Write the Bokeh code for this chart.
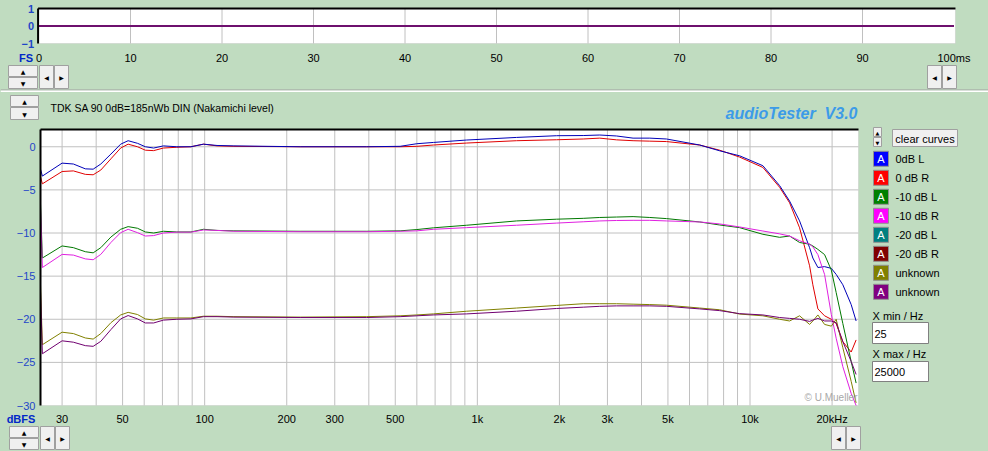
import numpy as np
from bokeh.plotting import figure
from bokeh.models import Range1d, FixedTicker, Label, BoxAnnotation
from bokeh.layouts import column
from bokeh.embed import file_html
from bokeh.resources import INLINE

BG = "#C0DCC0"
FONT = "Liberation Sans"
TICK_BLUE = "#1F45C8"
LABEL_BLUE = "#0028C8"
GRID = "#C0C0C0"

# ---------------- data ----------------
time_ms = [0, 100]
time_level = [0, 0]
time_min, time_max = 0, 100
level_min, level_max = -1, 1
time_ticks = [0, 10, 20, 30, 40, 50, 60, 70, 80, 90, 100]
time_tick_labels = ["0", "10", "20", "30", "40", "50", "60", "70", "80", "90", "100ms"]
time_grid = [10, 20, 30, 40, 50, 60, 70, 80, 90]
time_y_ticks = [-1, 0, 1]

freq_min, freq_max = 25, 25000
db_min, db_max = -30, 2

freq_hz = [25, 25.4, 30, 33, 36.5, 39, 41.6, 45.3, 49.2, 52.4, 56.7, 60.6, 65, 70.6, 79, 89, 99, 111, 128,
           224, 393, 521, 600, 690, 914, 1393, 1953, 2445, 2812, 3240, 3725, 4290, 4940,
           6540, 7740, 9160, 11150, 12840, 13970, 15200, 16540, 17000, 17740, 18770, 19870, 20700, 21900, 23500, 24500]

db_0dB_L = [-2.6, -3.4, -1.9, -2.0, -2.56, -2.6, -2.0, -0.85, 0.3, 0.7, 0.4, 0.0, -0.15, 0.1, 0.0, 0.0, 0.3, 0.15, 0.1,
            0.0, 0.0, 0.05, 0.35, 0.5, 0.78, 1.08, 1.28, 1.3, 1.36, 1.25, 1.0, 1.0, 0.9,
            0.2, -0.47, -1.05, -2.2, -4.5, -6.3, -8.6, -11.7, -12.9, -14.0, -13.9, -14.1, -14.8, -16.0, -18.3, -20.2]
db_0dB_R = [-3.5, -4.3, -2.87, -2.8, -3.2, -3.25, -2.7, -1.4, -0.15, 0.3, 0.0, -0.4, -0.45, -0.15, -0.06, 0.0, 0.3, 0.1, 0.05,
            0.0, 0.0, 0.0, 0.05, 0.2, 0.43, 0.7, 0.81, 0.9, 1.0, 0.8, 0.7, 0.65, 0.6,
            0.2, -0.4, -1.2, -2.4, -4.7, -6.5, -9.4, -13.8, -16.0, -18.8, -19.6, -20.0, -20.5, -22.6, -23.8, -22.4]
db_m10_L = [-6.6, -12.9, -11.5, -11.7, -12.17, -12.3, -11.7, -10.47, -9.57, -9.26, -9.45, -9.88, -10.0, -9.8, -9.88, -9.88, -9.57, -9.7, -9.75,
            -9.8, -9.8, -9.75, -9.6, -9.4, -9.1, -8.6, -8.4, -8.3, -8.2, -8.15, -8.1, -8.2, -8.33,
            -8.72, -9.07, -9.38, -10.15, -10.5, -10.35, -11.1, -11.3, -11.5, -11.9, -12.5, -14.3, -16.9, -20.5, -24.9, -27.4]
db_m10_R = [-7.1, -14.0, -12.48, -12.56, -13.0, -13.1, -12.48, -11.1, -9.96, -9.57, -9.96, -10.35, -10.3, -10.0, -9.9, -9.9, -9.65, -9.7, -9.8,
            -9.85, -9.85, -9.8, -9.75, -9.57, -9.38, -9.1, -8.85, -8.7, -8.6, -8.55, -8.53, -8.53, -8.6,
            -8.72, -8.95, -9.3, -9.77, -10.1, -10.35, -10.9, -11.3, -11.6, -12.5, -14.8, -19.45, -22.2, -25.5, -28.6, -30.0]
db_unknown_1 = [-16.0, -22.95, -21.5, -21.66, -22.17, -22.3, -21.66, -20.4, -19.5, -19.2, -19.45, -19.96, -20.1, -19.85, -19.85, -19.85, -19.65, -19.65, -19.7,
                -19.75, -19.7, -19.6, -19.5, -19.38, -19.07, -18.7, -18.4, -18.2, -18.2, -18.2, -18.25, -18.3, -18.37,
                -18.7, -18.9, -19.4, -19.6, -20.0, -20.2, -19.6, -20.6, -20.2, -19.5, -20.6, -20.8, -20.0, -23.3, -27.2, -29.7]
db_unknown_2 = [-16.8, -24.0, -22.5, -22.66, -23.06, -23.14, -22.56, -21.2, -19.96, -19.57, -19.96, -20.43, -20.43, -20.1, -20.0, -19.96, -19.7, -19.7, -19.75,
                -19.8, -19.8, -19.7, -19.6, -19.5, -19.38, -19.07, -18.75, -18.6, -18.5, -18.45, -18.45, -18.45, -18.5,
                -18.8, -19.0, -19.35, -19.5, -19.8, -19.9, -20.0, -20.25, -20.1, -19.9, -20.2, -20.2, -20.4, -22.6, -24.9, -26.4]

curve_values = [db_0dB_R, db_0dB_L, db_m10_L, db_m10_R, db_unknown_1, db_unknown_2]
curve_colors = ["#E00000", "#0000B8", "#007800", "#E020E0", "#808000", "#700070"]

x_tick_values = [30, 50, 100, 200, 300, 500, 1000, 2000, 3000, 5000, 10000, 20000]
x_tick_labels = ["30", "50", "100", "200", "300", "500", "1k", "2k", "3k", "5k", "10k", "20kHz"]
x_grid_values = [30, 40, 50, 60, 70, 80, 90, 100, 200, 300, 400, 500, 600, 700, 800, 900,
                 1000, 2000, 3000, 4000, 5000, 6000, 7000, 8000, 9000, 10000, 20000]
y_tick_values = [-30, -25, -20, -15, -10, -5, 0]
y_grid_values = [-25, -20, -15, -10, -5, 0]

legend_labels = ["0dB L", "0 dB R", "-10 dB L", "-10 dB R", "-20 dB L", "-20 dB R", "unknown", "unknown"]
legend_colors = ["#0000FF", "#FF0000", "#008000", "#FF00FF", "#008080", "#800000", "#808000", "#800080"]

title_text = "TDK SA 90 0dB=185nWb DIN (Nakamichi level)"
brand_text = "audioTester\u00a0\u00a0V3.0"
x_min_text = "25"
x_max_text = "25000"

# ---------------- page geometry (pixels) ----------------
W = 988
H_TOP = 92
H_BOT = 359
PAGE_H = H_TOP + H_BOT

# top plot: 0 ms at x=38.5, 9.15 px/ms ; level 0 at y=25.5, 17.5 px/unit
T_X0, T_XS = 38.5, 9.15
T_Y0, T_YS = 25.5, 17.5
# bottom plot: 25 Hz at x=40, 272.67 px/decade ; +2 dB at page y=129, 8.625 px/dB
F_X0, F_XS = 40.0, 272.67
F_YTOP, F_YS = 129.0, 8.625


# ---------------- helpers for decorations (page pixel coords) ----------------
def add_box(fig, fig_bottom, x0, y0, x1, y1, fill, line=None, level="annotation"):
    fig.add_layout(BoxAnnotation(left=x0, right=x1, top=fig_bottom - y0, bottom=fig_bottom - y1,
                                 left_units="screen", right_units="screen", top_units="screen",
                                 bottom_units="screen", fill_color=fill, fill_alpha=1.0,
                                 line_color=line, line_width=1, line_alpha=1.0 if line else 0.0,
                                 level=level))


def add_text(fig, fig_bottom, rx, ry, text, size="11px", color="black", align="left", font=FONT,
             style="normal"):
    fig.add_layout(Label(x=rx, y=fig_bottom - ry, x_units="screen", y_units="screen", text=text,
                         text_align=align, text_baseline="middle", text_font=font, text_font_size=size,
                         text_color=color, text_font_style=style))


def add_button(fig, fig_bottom, x0, y0, x1, y1, glyph, size="6px"):
    add_box(fig, fig_bottom, x0, y0, x1, y1, "#F0F0F0", "#A0A0A0")
    add_text(fig, fig_bottom, (x0 + x1) / 2, (y0 + y1) / 2 + 0.5, glyph, size=size, align="center",
             font="DejaVu Sans")


def style_axis(ax, color, size="11px", style="normal", standoff=4):
    ax.axis_line_color = None
    ax.major_tick_line_color = None
    ax.minor_tick_line_color = None
    ax.major_tick_out = 0
    ax.major_tick_in = 0
    ax.major_label_text_font = FONT
    ax.major_label_text_font_size = size
    ax.major_label_text_color = color
    ax.major_label_text_font_style = style
    ax.major_label_standoff = standoff


# ---------------- top (time) plot ----------------
top = figure(width=W, height=H_TOP,
             x_range=Range1d((0 - T_X0) / T_XS, (W - T_X0) / T_XS),
             y_range=Range1d((T_Y0 - H_TOP) / T_YS, T_Y0 / T_YS),
             output_backend="svg", toolbar_location=None, min_border=0,
             background_fill_color=BG, border_fill_color=BG, outline_line_color=None)
top.grid.visible = False
top.add_layout(BoxAnnotation(left=time_min - 0.05, right=time_max + 0.16, top=level_max, bottom=level_min,
                             fill_color="white", fill_alpha=1.0, line_color="#B4B4B4", line_width=1,
                             level="underlay"))
top.segment(x0=time_grid, y0=level_min, x1=time_grid, y1=level_max, line_color=GRID, line_width=1)
top.line(time_ms, time_level, line_color="#6E106E", line_width=2)
top.segment(x0=[time_min - 0.1, time_min - 0.1], y0=[level_max, level_min],
            x1=[time_max + 0.16, time_min - 0.1], y1=[level_max, level_max],
            line_color="black", line_width=2)

top.xaxis.ticker = FixedTicker(ticks=time_ticks)
top.xaxis.major_label_overrides = dict(zip(time_ticks, time_tick_labels))
top.xaxis.fixed_location = level_min
top.yaxis.ticker = FixedTicker(ticks=time_y_ticks)
top.yaxis.fixed_location = time_min - 0.1
style_axis(top.xaxis[0], "black", standoff=8)
style_axis(top.yaxis[0], TICK_BLUE, style="bold", standoff=4)

TB = H_TOP  # bottom of top figure in page pixels
add_text(top, TB, 25.5, 57, "FS", color=LABEL_BLUE, style="bold", align="center")
add_button(top, TB, 8, 65, 37, 76, "▲")
add_button(top, TB, 8, 77, 37, 88, "▼")
add_button(top, TB, 39, 65, 53, 88, "◀")
add_button(top, TB, 54, 65, 68, 88, "▶")
add_button(top, TB, 927, 65, 941, 88, "◀")
add_button(top, TB, 942, 65, 956, 88, "▶")
add_box(top, TB, 0, 89, W, 90, "#A0A0A0")
add_box(top, TB, 0, 90, W, 92, "#FFFFFF")

# ---------------- bottom (frequency) plot ----------------
fx_start = freq_min * 10 ** ((0 - F_X0) / F_XS)
fx_end = freq_min * 10 ** ((W - F_X0) / F_XS)
dy_top = db_max + (F_YTOP - H_TOP) / F_YS
dy_bot = db_max - (PAGE_H - F_YTOP) / F_YS

bot = figure(width=W, height=H_BOT, x_axis_type="log",
             x_range=Range1d(fx_start, fx_end), y_range=Range1d(dy_bot, dy_top),
             output_backend="svg", toolbar_location=None, min_border=0,
             background_fill_color=BG, border_fill_color=BG, outline_line_color=None)
bot.grid.visible = False
bot.add_layout(BoxAnnotation(left=freq_min, right=freq_max, top=db_max, bottom=db_min,
                             fill_color="white", fill_alpha=1.0, line_color="#B4B4B4", line_width=1,
                             level="underlay"))
bot.segment(x0=x_grid_values, y0=db_min, x1=x_grid_values, y1=db_max, line_color=GRID, line_width=1)
bot.segment(x0=freq_min, y0=y_grid_values, x1=freq_max, y1=y_grid_values, line_color=GRID, line_width=1)

# copyright mark sits under the curves, inside the plot area
add_text(bot, PAGE_H, 857, 397, "© U.Mueller", size="10px", color="#A8A8A8", align="right")

for vals, col in zip(curve_values, curve_colors):
    bot.line(freq_hz, vals, line_color=col, line_width=1)

bot.segment(x0=[freq_min, freq_min], y0=[db_max, db_min], x1=[freq_max, freq_min], y1=[db_max, db_max],
            line_color="black", line_width=2)

bot.xaxis.ticker = FixedTicker(ticks=x_tick_values)
bot.xaxis.major_label_overrides = dict(zip(x_tick_values, x_tick_labels))
bot.xaxis.fixed_location = db_min
bot.yaxis.ticker = FixedTicker(ticks=y_tick_values)
bot.yaxis.fixed_location = freq_min
style_axis(bot.xaxis[0], "black", standoff=7)
style_axis(bot.yaxis[0], TICK_BLUE, standoff=5)

BB = PAGE_H  # bottom of bottom figure in page pixels
add_button(bot, BB, 10, 95, 38, 106, "▲")
add_button(bot, BB, 10, 107, 38, 119, "▼")
add_text(bot, BB, 50, 107, title_text, size="10.5px")
add_text(bot, BB, 857, 113, brand_text, size="16px", color="#3C9BE8", align="right", style="bold italic")
add_text(bot, BB, 20.5, 418, "dBFS", color=LABEL_BLUE, style="bold", align="center")
add_button(bot, BB, 9, 426, 38, 437, "▲")
add_button(bot, BB, 9, 438, 38, 449, "▼")
add_button(bot, BB, 40, 426, 54, 449, "◀")
add_button(bot, BB, 55, 426, 69, 449, "▶")
add_button(bot, BB, 831, 426, 845, 449, "◀")
add_button(bot, BB, 846, 426, 860, 449, "▶")

# side panel: controls and legend
add_button(bot, BB, 873, 127, 881, 136, "▲", size="5px")
add_button(bot, BB, 873, 137, 881, 146, "▼", size="5px")
add_box(bot, BB, 892, 129, 957, 146, "#F0F0F0", "#A0A0A0")
add_text(bot, BB, 924.5, 138, "clear curves", align="center")

for i, (lab, col) in enumerate(zip(legend_labels, legend_colors)):
    yc = 158.3 + 19.0 * i
    add_box(bot, BB, 873, yc - 7.5, 888, yc + 7.5, col, "#909090")
    add_text(bot, BB, 880.5, yc + 0.5, "A", color="white", align="center")
    add_text(bot, BB, 895, yc, lab)

add_text(bot, BB, 872, 315, "X min / Hz")
add_box(bot, BB, 872, 322, 928, 343, "white", "#808080")
add_text(bot, BB, 874, 333, x_min_text)
add_text(bot, BB, 872, 353, "X max / Hz")
add_box(bot, BB, 872, 361, 928, 381, "white", "#808080")
add_text(bot, BB, 874, 371, x_max_text)

layout = column(top, bot)

html = file_html(layout, INLINE, title="audioTester")
html = html.replace("<head>", "<head><style>html,body{background:#C0DCC0;}</style>", 1)
open("out.html", "w").write(html)
